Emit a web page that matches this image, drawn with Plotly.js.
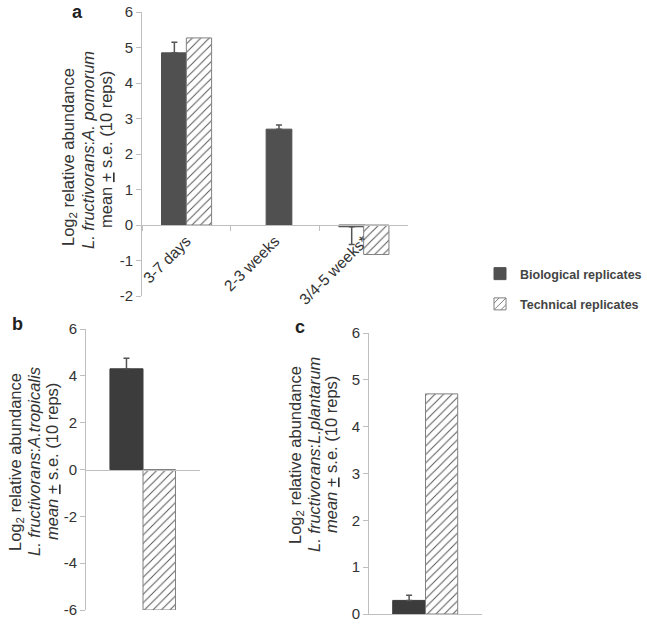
<!DOCTYPE html>
<html>
<head>
<meta charset="utf-8">
<script src="https://cdn.plot.ly/plotly-3.0.1.min.js"></script>
<style>html,body{margin:0;padding:0;background:#fff;}#chart{width:647px;height:625px;}</style>
</head>
<body>
<div id="chart"></div>
<script>
// ---- data ----
var catsA = ["3-7 days", "2-3 weeks", "3/4-5 weeks*"];
var bioA = [4.85, 2.7, -0.05];
var bioAErrPlus = [0.3, 0.12, 0];
var bioAErrMinus = [0, 0, 0.5];
var techA = [5.27, null, -0.83];

var catsB = ["B"];
var bioB = [4.3];
var bioBErrPlus = [0.45];
var techB = [-6.0];

var catsC = ["C"];
var bioC = [0.29];
var bioCErrPlus = [0.11];
var techC = [4.7];

var ticksA = [-2, -1, 0, 1, 2, 3, 4, 5, 6];
var tickTextA = ["-2", "-1", "0", "1", "2", "3", "4", "5", "6"];
var ticksB = [-6, -4, -2, 0, 2, 4, 6];
var tickTextB = ["-6", "-4", "-2", "0", "2", "4", "6"];
var ticksC = [0, 1, 2, 3, 4, 5, 6];
var tickTextC = ["0", "1", "2", "3", "4", "5", "6"];

var seriesNames = ["Biological replicates", "Technical replicates"];

// ---- styles ----
var FONT = "Arial, 'Liberation Sans', sans-serif";
var axisGray = "#bfbfbf";
var textCol = "#333333";
var hatch = {shape: "/", fgcolor: "#555555", bgcolor: "#ffffff", size: 6, solidity: 0.16};

function bioTrace(x, y, plus, minus, xa, ya, color, offsets, show) {
  return {
    type: "bar", x: x, y: y, xaxis: xa, yaxis: ya, name: seriesNames[0],
    legendgroup: "bio", showlegend: show,
    width: 0.29, offset: offsets,
    marker: {color: color, line: {color: color, width: 1}},
    error_y: {type: "data", symmetric: false, array: plus, arrayminus: minus,
              color: "#555555", thickness: 1.5, width: 3},
    hoverinfo: "skip"
  };
}
function techTrace(x, y, xa, ya, show) {
  return {
    type: "bar", x: x, y: y, xaxis: xa, yaxis: ya, name: seriesNames[1],
    legendgroup: "tech", showlegend: show,
    width: 0.285, offset: 0,
    marker: {color: "#ffffff", pattern: hatch, line: {color: "#808080", width: 1}},
    hoverinfo: "skip"
  };
}

var data = [
  bioTrace(catsA, bioA, bioAErrPlus, bioAErrMinus, "x", "y", "#505050", [-0.28, -0.1, -0.28], true),
  techTrace(catsA, techA, "x", "y", true),
  bioTrace(catsB, bioB, bioBErrPlus, [0], "x2", "y2", "#3c3c3c", [-0.29], false),
  techTrace(catsB, techB, "x2", "y2", false),
  bioTrace(catsC, bioC, bioCErrPlus, [0], "x3", "y3", "#3c3c3c", [-0.29], false),
  techTrace(catsC, techC, "x3", "y3", false)
];

function yax(domain, range, tv, tt) {
  return {domain: domain, range: range, tickmode: "array", tickvals: tv, ticktext: tt,
          showgrid: false, zeroline: false,
          showline: true, linecolor: axisGray, linewidth: 1, ticks: "outside", ticklen: 5,
          tickcolor: axisGray, tickfont: {size: 15, color: textCol, family: FONT}, fixedrange: true};
}

var W = 647, H = 625;
function px(x) { return x / W; }
function py(y) { return 1 - y / H; }

var layout = {
  width: W, height: H,
  margin: {l: 0, r: 0, t: 0, b: 0},
  paper_bgcolor: "#ffffff", plot_bgcolor: "rgba(0,0,0,0)",
  font: {family: FONT, color: textCol},
  barmode: "overlay",
  showlegend: true,
  legend: {x: 1, y: py(259), xanchor: "right", yanchor: "top",
           font: {size: 12.5, color: "#444444", family: FONT, weight: "bold"},
           traceorder: "grouped", tracegroupgap: 11, itemwidth: 30, bgcolor: "rgba(0,0,0,0)"},
  xaxis: {domain: [px(142), px(408)], anchor: "free", position: py(225), type: "category",
          range: [-0.5, 2.5], showline: true, linecolor: axisGray, linewidth: 1,
          tickson: "boundaries", ticks: "outside", ticklen: 5, tickcolor: axisGray,
          tickangle: -45, tickfont: {size: 15.5, color: textCol, family: FONT},
          showgrid: false, zeroline: false, fixedrange: true},
  yaxis: yax([py(296), py(12)], [-2, 6], ticksA, tickTextA),
  xaxis2: {domain: [px(86), px(200)], anchor: "free", position: py(469.5), type: "category",
           range: [-0.5, 0.5], showline: true, linecolor: axisGray, linewidth: 1,
           showticklabels: false, ticks: "", showgrid: false, zeroline: false, fixedrange: true},
  yaxis2: yax([py(610), py(329)], [-6, 6], ticksB, tickTextB),
  xaxis3: {domain: [px(369), px(482)], anchor: "y3", type: "category",
           range: [-0.5, 0.5], showline: true, linecolor: axisGray, linewidth: 1,
           showticklabels: false, ticks: "", showgrid: false, zeroline: false, fixedrange: true},
  yaxis3: yax([py(614), py(333)], [0, 6], ticksC, tickTextC),
  annotations: []
};
layout.yaxis2.anchor = "x2";
layout.yaxis3.anchor = "x3";

function ytitle(lines, xs, yc) {
  for (var i = 0; i < lines.length; i++) {
    layout.annotations.push({text: lines[i], xref: "paper", yref: "paper", x: px(xs[i]), y: py(yc[i]),
      xanchor: "center", yanchor: "middle", textangle: -90, showarrow: false,
      font: {size: 16.5, color: textCol, family: FONT}});
  }
}
ytitle(["Log<sub>2</sub> relative abundance", "<i>L. fructivorans</i>:<i>A. pomorum</i>", "mean <u>+</u> s.e. (10 reps)"],
       [69, 88, 106], [157, 150, 150]);
ytitle(["Log<sub>2</sub> relative abundance", "<i>L. fructivorans</i>:<i>A.tropicalis</i>", "<i>mean</i> <u>+</u> s.e. (10 reps)"],
       [16, 34, 52], [462, 462, 462]);
ytitle(["Log<sub>2</sub> relative abundance", "<i>L. fructivorans</i>:<i>L.plantarum</i>", "<i>mean</i> <u>+</u> s.e. (10 reps)"],
       [296, 314, 331], [455, 455, 455]);

function panelLabel(t, x, y) {
  layout.annotations.push({text: "<b>" + t + "</b>", xref: "paper", yref: "paper", x: px(x), y: py(y),
    xanchor: "center", yanchor: "middle", showarrow: false, font: {size: 18, color: "#222222", family: FONT}});
}
panelLabel("a", 77, 12);
panelLabel("b", 17, 324);
panelLabel("c", 300, 327);

Plotly.newPlot("chart", data, layout, {staticPlot: true, displayModeBar: false});
</script>
</body>
</html>
